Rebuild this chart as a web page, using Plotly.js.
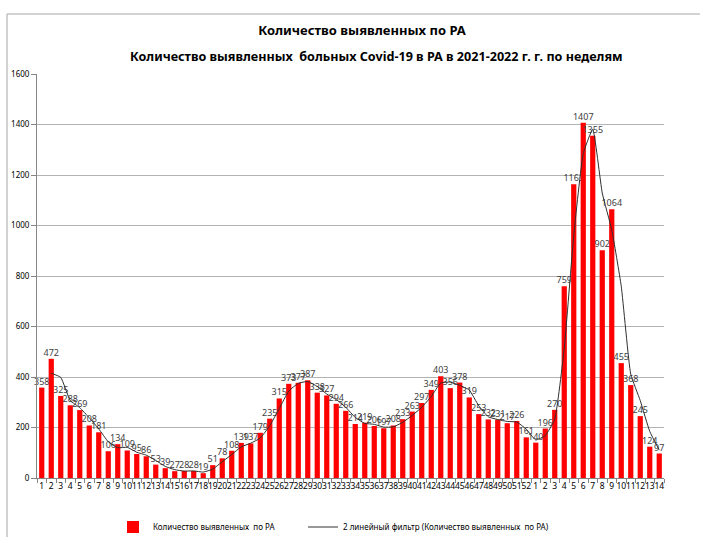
<!DOCTYPE html>
<html>
<head>
<meta charset="utf-8">
<script src="https://cdn.plot.ly/plotly-3.0.1.min.js"></script>
<style>html,body{margin:0;padding:0;background:#fff;}#chart{width:704px;height:537px;}</style>
</head>
<body>
<div id="chart"></div>
<script>
const weeks2021 = [1,2,3,4,5,6,7,8,9,10,11,12,13,14,15,16,17,18,19,20,21,22,23,24,25,26,27,28,29,30,31,32,33,34,35,36,37,38,39,40,41,42,43,44,45,46,47,48,49,50,51,52];
const cases2021 = [358,472,325,288,269,208,181,106,134,109,95,86,53,39,27,28,28,19,51,78,108,139,137,179,235,315,373,377,387,338,327,294,266,214,219,206,197,208,233,263,297,349,403,356,378,319,253,232,231,217,226,161];
const weeks2022 = [1,2,3,4,5,6,7,8,9,10,11,12,13,14];
const cases2022 = [140,196,270,759,1163,1407,1355,902,1064,455,368,245,124,97];
const barName = 'Количество выявленных  по РА';
const trendName = '2 линейный фильтр (Количество выявленных  по РА)';
const yTicks = [0,200,400,600,800,1000,1200,1400,1600];

const cats = weeks2021.map(w => '2021-' + w).concat(weeks2022.map(w => '2022-' + w));
const labels = weeks2021.concat(weeks2022).map(String);
const vals = cases2021.concat(cases2022);
// 2-period moving average trendline (as in the original spreadsheet)
const maX = [], maY = [];
for (let i = 1; i < vals.length; i++) { maX.push(cats[i]); maY.push((vals[i-1] + vals[i]) / 2); }

const F = 'Noto Sans, Open Sans, sans-serif';
const traces = [
  {type:'bar', x:cats, y:vals, name:barName, marker:{color:'#ff0000'}, legend:'legend',
   text:vals.map(String), textposition:'outside', constraintext:'none', cliponaxis:false,
   textfont:{family:F, size:9, color:'#404040'}, hoverinfo:'x+y'},
  {type:'scatter', mode:'lines', x:maX, y:maY, name:trendName, legend:'legend2',
   line:{color:'#303030', width:1, shape:'spline', smoothing:0.4}}
];
const legY = -(527-478)/404;
const layout = {
  width:704, height:537,
  margin:{l:37, r:40, t:74, b:59, autoexpand:false},
  paper_bgcolor:'#fff', plot_bgcolor:'#fff',
  bargap:0.45,
  showlegend:true,
  title:{text:'<b>Количество выявленных по РА</b>', font:{family:F, size:13, color:'#000'}, x:362/704, xanchor:'center', y:1-30/537, yanchor:'middle'},
  annotations:[{text:'<b>Количество выявленных  больных Covid-19 в РА в 2021-2022 г. г. по неделям</b>', xref:'paper', yref:'paper', x:(376-37)/627, y:1+(74-57)/404, xanchor:'center', yanchor:'middle', showarrow:false, font:{family:F, size:12.6, color:'#000'}}],
  xaxis:{type:'category', tickvals:cats, ticktext:labels, tickson:'boundaries', ticks:'outside', ticklen:4, tickcolor:'#868686',
    showline:true, linecolor:'#868686', linewidth:1, showgrid:false, tickangle:0, tickfont:{family:F, size:8.5, color:'#000'}, fixedrange:true},
  yaxis:{range:[0,1600], tickvals:yTicks, ticks:'outside', ticklen:5, tickcolor:'#868686', showline:true, linecolor:'#868686', linewidth:1,
    showgrid:true, gridcolor:'#b3b3b3', gridwidth:1, zeroline:false, tickfont:{family:F, size:8, color:'#000'}, fixedrange:true},
  legend:{orientation:'h', x:(113-37)/627, xanchor:'left', y:legY, yanchor:'middle', font:{family:F, size:8, color:'#000'}, itemwidth:30, bgcolor:'rgba(0,0,0,0)'},
  legend2:{orientation:'h', x:(303-37)/627, xanchor:'left', y:legY, yanchor:'middle', font:{family:F, size:8, color:'#000'}, itemwidth:30, bgcolor:'rgba(0,0,0,0)'},
  shapes:[
    {type:'line', xref:'paper', yref:'paper', x0:(7-37)/627, x1:(7-37)/627, y0:-1, y1:1+(74-14)/404, line:{color:'#a6a6a6', width:1}},
    {type:'line', xref:'paper', yref:'paper', x0:(7-37)/627, x1:(700-37)/627, y0:1+(74-14)/404, y1:1+(74-14)/404, line:{color:'#a6a6a6', width:1}}
  ]
};
Plotly.newPlot('chart', traces, layout, {displayModeBar:false, staticPlot:true});
</script>
</body>
</html>
